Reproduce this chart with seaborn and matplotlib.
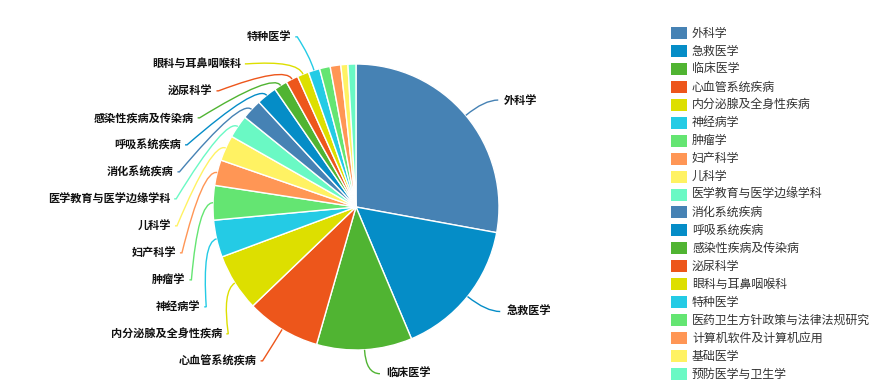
import numpy as np
import matplotlib
matplotlib.use("Agg")
import matplotlib.pyplot as plt
from matplotlib.patches import Rectangle
from matplotlib.path import Path
from matplotlib.patches import PathPatch
import seaborn as sns

# ---- data -------------------------------------------------------------
names = [
    "外科学", "急救医学", "临床医学", "心血管系统疾病", "内分泌腺及全身性疾病",
    "神经病学", "肿瘤学", "妇产科学", "儿科学", "医学教育与医学边缘学科",
    "消化系统疾病", "呼吸系统疾病", "感染性疾病及传染病", "泌尿科学",
    "眼科与耳鼻咽喉科", "特种医学", "医药卫生方针政策与法律法规研究",
    "计算机软件及计算机应用", "基础医学", "预防医学与卫生学",
]
counts = [279, 158, 108, 84, 65, 42, 39, 29, 29, 26,
          23, 23, 15, 14, 13, 13, 12, 12, 8, 9]
base_colors = ["#4682B4", "#058DC7", "#50B432", "#ED561B", "#DDDF00",
               "#24CBE5", "#64E572", "#FF9655", "#FFF263", "#6AF9C4"]

# ---- style --------------------------------------------------------------
sns.set_theme(style="white")
plt.rcParams["font.family"] = ["Noto Sans CJK SC", "DejaVu Sans"]
palette = sns.color_palette(base_colors, n_colors=len(names))

W, H = 895, 388
fig = plt.figure(figsize=(W / 100, H / 100), dpi=100)
ax = fig.add_axes([0, 0, 1, 1])

CX, CY = 356, H - 207          # pie centre (axes units == pixels)
R = 143                        # pie radius
MIN_LABEL_ANGLE = 4.5          # smaller slices carry no label

wedges, _ = ax.pie(counts, colors=palette, startangle=90, counterclock=False,
                   radius=R, center=(CX, CY),
                   wedgeprops=dict(edgecolor="white", linewidth=1.0))
ax.set_xlim(0, W)
ax.set_ylim(0, H)
ax.set_aspect("equal")
ax.axis("off")

# ---- slice labels with leader lines ------------------------------------
R_SIDE = 178      # radius on which left-side labels are arranged
GAP_Y = 27        # minimum vertical spacing of stacked labels
L1, L2 = 24, 14   # leader lengths for the right-hand side
LABEL_FS = 8.0

left, right = [], []
for w, name, col in zip(wedges, names, palette):
    span = abs(w.theta2 - w.theta1)
    if span < MIN_LABEL_ANGLE:
        continue
    mid = np.deg2rad((w.theta1 + w.theta2) / 2)
    d = np.array([np.cos(mid), np.sin(mid)])
    item = dict(name=name, col=col, d=d)
    (left if d[0] < 0 else right).append(item)

# left side: stack from the top, pushing labels apart
for it in left:
    it["y"] = CY + R_SIDE * it["d"][1]
left.sort(key=lambda it: -it["y"])
for i in range(1, len(left)):
    left[i]["y"] = min(left[i]["y"], left[i - 1]["y"] - GAP_Y)

def leader(points, codes, col):
    ax.add_patch(PathPatch(Path(points, codes), fill=False,
                           edgecolor=col, lw=1.0, zorder=1))

for it in left:
    d, y = it["d"], it["y"]
    E = np.array([CX, CY]) + R * d
    C = np.array([CX, CY]) + (R + 15) * d
    dy = y - CY
    mx = CX - np.sqrt(max(180 ** 2 - dy ** 2, 0.0))
    leader([E, C, (mx, y), (mx - 2, y)],
           [Path.MOVETO, Path.CURVE3, Path.CURVE3, Path.LINETO], it["col"])
    ax.text(mx - 6, y, it["name"], ha="right", va="center",
            fontsize=LABEL_FS, fontweight="bold", color="#111111")

for it in right:
    d = it["d"]
    E = np.array([CX, CY]) + R * d
    M = np.array([CX, CY]) + (R + L1) * d
    T = M + np.array([L2, 0])
    leader([E, M, T], [Path.MOVETO, Path.CURVE3, Path.CURVE3], it["col"])
    ax.text(T[0] + 6, T[1], it["name"], ha="left", va="center",
            fontsize=LABEL_FS, fontweight="bold", color="#111111")

# ---- legend ------------------------------------------------------------
LEG_X, LEG_Y0, LEG_STEP = 671, 33, 17.95
for i, (name, col) in enumerate(zip(names, palette)):
    yc = H - (LEG_Y0 + i * LEG_STEP)
    ax.add_patch(Rectangle((LEG_X, yc - 6), 16, 12, facecolor=col,
                           edgecolor="none"))
    ax.text(LEG_X + 21, yc, name, ha="left", va="center",
            fontsize=8.6, color="#333333")

fig.savefig("out.png", dpi=100)
